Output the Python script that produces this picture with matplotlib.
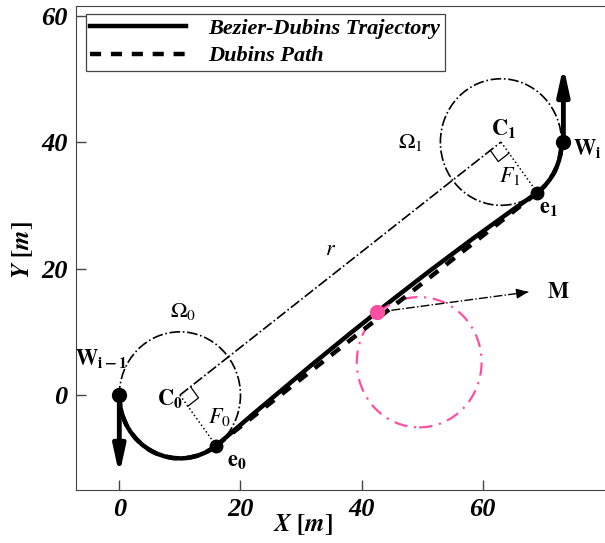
import numpy as np
import matplotlib
matplotlib.use('Agg')
import matplotlib.pyplot as plt
from matplotlib.patches import Arc, Circle, PathPatch
from matplotlib.path import Path
from matplotlib.lines import Line2D

plt.rcParams['font.family'] = ['Liberation Serif', 'DejaVu Serif']
plt.rcParams['mathtext.fontset'] = 'stix'

# geometry
radius = 10.0
C0 = np.array([10.0, 0.0])
C1 = np.array([63.0, 40.0])
Wprev = np.array([0.0, 0.0])
Wi = np.array([73.3, 40.0])
e0 = np.array([16.0, -8.0])
e1 = np.array([69.0, 32.0])
arc0_deg = [180, 307]
arc1_deg = [307, 360]
# bezier control points of the smoothed straight part
bez_x = [16.0, 32.6, 49.4, 69.0]
bez_y = [-8.0, 5.7, 19.0, 32.0]
M = np.array([42.5, 13.1])
M_circle = np.array([49.5, 5.2])
M_radius = 10.3
M_arrow_end = np.array([67.5, 16.3])

fig = plt.figure(figsize=(6.05, 5.43), dpi=100)
ax = fig.add_axes([0.1256, 0.0976, 0.8727, 0.8913])
ax.set_xlim(-7.15, 80)
ax.set_ylim(-15.0, 61.5)

lw = 3.2
dash = (0, (2.5, 2.2))
# dubins path (dashed)
ax.add_patch(Arc(C0, 2*radius, 2*radius, theta1=arc0_deg[0], theta2=arc0_deg[1], lw=lw, ls=dash, color='k'))
ax.add_patch(Arc(C1, 2*radius, 2*radius, theta1=arc1_deg[0], theta2=arc1_deg[1], lw=lw, ls=dash, color='k'))
ax.plot([e0[0], e1[0]], [e0[1], e1[1]], color='k', lw=lw, ls=dash)

# bezier-dubins trajectory (solid)
ax.add_patch(Arc(C0, 2*radius, 2*radius, theta1=arc0_deg[0], theta2=arc0_deg[1], lw=lw, color='k'))
ax.add_patch(Arc(C1, 2*radius, 2*radius, theta1=arc1_deg[0], theta2=arc1_deg[1], lw=lw, color='k'))
bez = Path(np.column_stack([bez_x, bez_y]), [Path.MOVETO, Path.CURVE4, Path.CURVE4, Path.CURVE4])
ax.add_patch(PathPatch(bez, fill=False, lw=lw, color='k', capstyle='round'))

# helper circles
ax.add_patch(Circle(C0, radius, fill=False, ls='-.', lw=1.2, color='k'))
ax.add_patch(Circle(C1, radius, fill=False, ls='-.', lw=1.2, color='k'))
ax.add_patch(Circle(M_circle, M_radius, fill=False, ls=(0, (6, 3, 1, 3)), lw=1.6, color='#ff4fa3'))
ax.plot([C0[0], C1[0]], [C0[1], C1[1]], 'k-.', lw=1.2)
ax.plot([C0[0], e0[0]], [C0[1], e0[1]], 'k:', lw=1.1)
ax.plot([C1[0], e1[0]], [C1[1], e1[1]], 'k:', lw=1.1)

# right angle markers
sq = 2.2
for c, other, e in [(C0, C1, e0), (C1, C0, e1)]:
    u = (other - c) / np.linalg.norm(other - c)
    v = (e - c) / np.linalg.norm(e - c)
    pts = np.array([c + sq*u, c + sq*u + sq*v, c + sq*v])
    ax.plot(pts[:, 0], pts[:, 1], 'k-', lw=0.9)

# heading arrows
head = dict(arrowstyle='-|>,head_length=1.6,head_width=0.35', lw=3.5, color='k', shrinkA=0, shrinkB=0)
ax.annotate('', xy=(0, -12.6), xytext=(0, 0), arrowprops=head)
ax.annotate('', xy=(Wi[0], 52.0), xytext=Wi, arrowprops=head)
ax.plot([M[0], M_arrow_end[0]], [M[1], M_arrow_end[1]], 'k-.', lw=1.0)
ax.annotate('', xy=M_arrow_end, xytext=M_arrow_end - np.array([0.6, 0.08]),
            arrowprops=dict(arrowstyle='-|>,head_length=0.7,head_width=0.3', lw=1.0, color='k',
                            shrinkA=0, shrinkB=0))

# points
ax.plot([Wprev[0], Wi[0]], [Wprev[1], Wi[1]], 'ko', ms=10)
ax.plot([e0[0], e1[0]], [e0[1], e1[1]], 'ko', ms=9)
ax.plot(M[0], M[1], 'o', color='#ff4fa3', ms=10)

# annotations
tk = dict(fontsize=16, ha='center', va='center')
ax.text(-3.0, 5.6, r'$\mathbf{W_{i-1}}$', **tk)
ax.text(77.3, 38.8, r'$\mathbf{W_{i}}$', **tk)
ax.text(19.4, -10.6, r'$\mathbf{e_0}$', **tk)
ax.text(70.8, 29.3, r'$\mathbf{e_1}$', **tk)
ax.text(8.3, -0.7, r'$\mathbf{C_0}$', **tk)
ax.text(63.4, 42.0, r'$\mathbf{C_1}$', **tk)
ax.text(16.5, -3.4, r'$\boldsymbol{F_0}$', **tk)
ax.text(64.4, 34.6, r'$\boldsymbol{F_1}$', **tk)
ax.text(10.5, 13.2, r'$\Omega_0$', **tk)
ax.text(48.0, 40.0, r'$\Omega_1$', **tk)
ax.text(34.8, 22.8, r'$r$', **tk)
ax.text(72.5, 16.2, r'$\mathbf{M}$', **tk)

# axes styling
ax.spines['right'].set_visible(False)
for s in ['left', 'bottom', 'top']:
    ax.spines[s].set_color('#444444')
ax.set_xticks([0, 20, 40, 60])
ax.set_yticks([0, 20, 40, 60])
ax.tick_params(direction='in', length=7, width=1, color='#444444', top=False, right=False, pad=6)
for lab in ax.get_xticklabels() + ax.get_yticklabels():
    lab.set_fontsize(19)
    lab.set_fontweight('bold')
    lab.set_fontstyle('italic')
ax.set_xlabel(r'$\boldsymbol{X}$ $\mathbf{[}\boldsymbol{m}\mathbf{]}$', fontsize=18)
ax.xaxis.set_label_coords(0.43, -0.046)
ax.set_ylabel(r'$\boldsymbol{Y}$ $\mathbf{[}\boldsymbol{m}\mathbf{]}$', fontsize=18)
ax.yaxis.set_label_coords(-0.078, 0.495)

handles = [Line2D([], [], color='k', lw=lw),
           Line2D([], [], color='k', lw=lw, ls=dash)]
leg = ax.legend(handles, ['Bezier-Dubins Trajectory', 'Dubins Path'], loc='upper left',
                bbox_to_anchor=(0.019, 0.983), fancybox=False, framealpha=1, edgecolor='#444444',
                handlelength=4.3, borderpad=0.2, labelspacing=0.3, borderaxespad=0, handletextpad=1.0,
                prop={'family': 'Liberation Serif', 'weight': 'bold', 'style': 'italic', 'size': 16})
leg.get_frame().set_linewidth(0.9)

fig.savefig('out.png', dpi=100)
